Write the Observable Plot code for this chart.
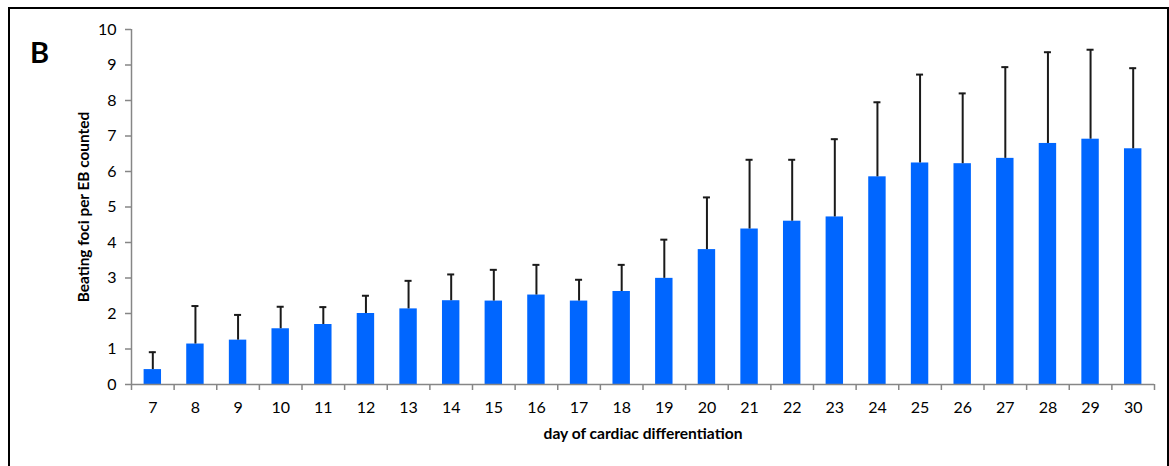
<!DOCTYPE html>
<html>
<head>
<meta charset="utf-8">
<script src="https://cdn.jsdelivr.net/npm/d3@7"></script>
<script src="https://cdn.jsdelivr.net/npm/@observablehq/plot@0.6"></script>
<style>
  html, body { margin: 0; padding: 0; background: #fff; }
  #wrap { position: relative; width: 1169px; height: 466px; overflow: hidden; background: #fff; }
  #frame { position: absolute; left: 8px; top: 7px; width: 1161px; height: 480px; border: 2px solid #000; box-sizing: border-box; pointer-events: none; }
  #chart { position: absolute; left: 0; top: 0; }
  #panel { position: absolute; left: 30px; top: 34px; font: bold 29px Lato, "Liberation Sans", sans-serif; color: #000; }
</style>
</head>
<body>
<div id="wrap">
  <div id="chart"></div>
  <div id="frame"></div>
  <div id="panel">B</div>
</div>
<script>
const days = [7, 8, 9, 10, 11, 12, 13, 14, 15, 16, 17, 18, 19, 20, 21, 22, 23, 24, 25, 26, 27, 28, 29, 30];
const means = [0.42, 1.14, 1.25, 1.57, 1.69, 2.00, 2.13, 2.36, 2.35, 2.52, 2.35, 2.62, 2.99, 3.80, 4.38, 4.60, 4.72, 5.85, 6.24, 6.22, 6.37, 6.79, 6.91, 6.64];
const sds = [0.49, 1.07, 0.71, 0.62, 0.49, 0.50, 0.79, 0.74, 0.88, 0.85, 0.60, 0.75, 1.09, 1.47, 1.95, 1.73, 2.19, 2.10, 2.49, 1.98, 2.57, 2.57, 2.52, 2.27];
const yTicks = [0, 1, 2, 3, 4, 5, 6, 7, 8, 9, 10];
const xTitle = "day of cardiac differentiation";
const yTitle = "Beating foci per EB counted";

const data = days.map((d, i) => ({day: d, mean: means[i], top: means[i] + sds[i]}));
const bounds = [days[0] - 0.5, ...days.map(d => d + 0.5)];

const axisGray = "#868686";
const barBlue = "#0066FF";

const chart = Plot.plot({
  width: 1169,
  height: 466,
  marginLeft: 131,
  marginRight: 15,
  marginTop: 29,
  marginBottom: 82,
  style: "font-family: Lato, 'Open Sans', sans-serif; font-size: 16px; color: #000; background: transparent; overflow: visible;",
  x: {domain: [days[0] - 0.5, days[days.length - 1] + 0.5], axis: null},
  y: {domain: [0, 10], axis: null},
  marks: [
    Plot.rectY(data, {x1: d => d.day - 0.5, x2: d => d.day + 0.5, y: "mean", fill: barBlue, insetLeft: 12.6, insetRight: 12.6}),
    Plot.ruleX(data, {x: "day", y1: "mean", y2: "top", stroke: "#1a1a1a", strokeWidth: 2}),
    Plot.ruleY(data, {y: "top", x1: d => d.day - 0.5, x2: d => d.day + 0.5, insetLeft: 17.8, insetRight: 17.8, stroke: "#1a1a1a", strokeWidth: 2}),
    Plot.ruleX([days[0] - 0.5], {stroke: axisGray, strokeWidth: 1.5}),
    Plot.ruleY([0], {stroke: axisGray, strokeWidth: 1.5}),
    Plot.axisY({ticks: yTicks, tickSize: 6, tickPadding: 9, stroke: axisGray, strokeWidth: 1.5, label: null, fill: "#000", fontSize: 16}),
    Plot.axisX({ticks: bounds, tickSize: 6, tickFormat: () => "", stroke: axisGray, strokeWidth: 1.5, label: null}),
    Plot.axisX({ticks: days, tickSize: 0, tickPadding: 17, label: null, fill: "#000", fontSize: 16}),
    Plot.text([xTitle], {frameAnchor: "bottom", dy: 49, lineAnchor: "middle", textAnchor: "middle", fontWeight: "bold", fontSize: 15.6, fill: "#000"}),
    Plot.text([yTitle], {frameAnchor: "left", dx: -47, rotate: -90, lineAnchor: "middle", textAnchor: "middle", fontWeight: "bold", fontSize: 15.4, fill: "#000"})
  ]
});
document.getElementById("chart").appendChild(chart);
</script>
</body>
</html>
